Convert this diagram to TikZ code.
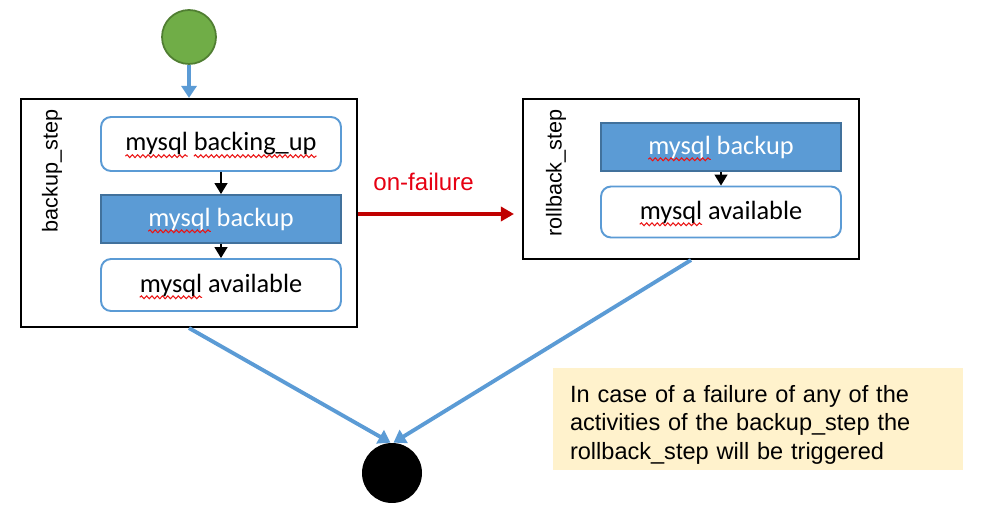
\documentclass[tikz,border=0pt]{standalone}
\usepackage{fontspec}
\setmainfont{Liberation Sans}
\newfontfamily\calibri{Carlito}
\usetikzlibrary{arrows.meta, positioning, decorations.pathmorphing}
\definecolor{actblue}{RGB}{91,155,213}
\definecolor{actedge}{RGB}{65,113,156}
\definecolor{startgreen}{RGB}{112,173,71}
\definecolor{startedge}{RGB}{80,126,50}
\definecolor{failred}{RGB}{192,0,0}
\definecolor{labelred}{RGB}{230,0,18}
\definecolor{notefill}{RGB}{255,242,204}
\definecolor{spellred}{RGB}{235,20,20}
\newcommand\actfont{\calibri\fontsize{15}{18}\selectfont}
\newlength\wmysql
\newlength\wgap
\newlength\wbacking
\tikzstyle{stepbox} = [rectangle, draw=black, line width=1.2pt, fill=white, minimum width=6.72cm, inner sep=0pt]
\tikzstyle{activity} = [rectangle, rounded corners=0.2cm, draw=actblue, line width=1.1pt, fill=white, minimum width=4.8cm, font=\actfont]
\tikzstyle{current} = [rectangle, draw=actedge, line width=1.1pt, fill=actblue, text=white, minimum width=4.8cm, font=\actfont]
\tikzstyle{steplabel} = [rotate=90, font=\fontsize{12.3}{14}\selectfont]
\tikzstyle{flow} = [actblue, line width=2.2pt, -{Triangle[width=0.3cm,length=0.24cm]}]
\tikzstyle{arrow} = [black, line width=0.8pt, -{Triangle[width=0.26cm,length=0.22cm]}]
\tikzstyle{spell} = [spellred, line width=0.6pt, decorate, decoration={snake, amplitude=0.8pt, segment length=3pt}]

\begin{document}
\settowidth\wmysql{\actfont mysql}
\settowidth\wgap{\actfont mysql }
\settowidth\wbacking{\actfont backing\_up}
\begin{tikzpicture}[x=0.02cm, y=-0.02cm]
    \useasboundingbox (0,0) rectangle (1000,520);

    % Start and end
    \node[circle, draw=startedge, line width=1pt, fill=startgreen, minimum size=1.08cm, inner sep=0pt] (start) at (189,37) {};
    \node[circle, fill=black, minimum size=1.2cm, inner sep=0pt] (finish) at (392,473) {};

    % backup step
    \node[stepbox, minimum height=4.56cm] (backupstep) at (189,213) {};
    \node[steplabel] (backuplabel) at (52,171) {backup\_step};
    \node[activity, minimum height=1.08cm] (backingup) at (221,144) {mysql backing\_up};
    \node[current, minimum height=0.96cm] (backup1) at (221,219) {mysql backup};
    \node[activity, minimum height=1.04cm] (available1) at (221,285) {mysql available};

    % rollback step
    \node[stepbox, minimum height=3.2cm] (rollbackstep) at (691,179) {};
    \node[steplabel] (rollbacklabel) at (556,173) {rollback\_step};
    \node[current, minimum height=0.96cm] (backup2) at (721,147) {mysql backup};
    \node[activity, minimum height=1.02cm] (available2) at (721,212) {mysql available};

    % spelling marks
    \draw[spell] ([yshift=-3pt]backingup.text) -- ++(\wmysql,0);
    \draw[spell] ([xshift=\wgap, yshift=-3pt]backingup.text) -- ++(\wbacking,0);
    \foreach \act in {backup1, available1, backup2, available2}
        \draw[spell] ([yshift=-3pt]\act.text) -- ++(\wmysql,0);

    % Note
    \node[rectangle, fill=notefill, minimum width=8.2cm, minimum height=2.04cm, text width=7.52cm, inner xsep=0.34cm, align=left, font=\fontsize{13.4}{16.2}\selectfont] (note) at (758,419) {\rule{0pt}{16.4pt}In case of a failure of any of the\\activities of the backup\_step the\\rollback\_step will be triggered};

    % Arrows
    \draw[flow] (start.south) -- (backupstep.north);
    \draw[arrow] (backingup) -- (backup1);
    \draw[arrow] (backup1) -- (available1);
    \draw[arrow] (backup2) -- (available2);
    \draw[failred, line width=2.2pt, -{Triangle[width=0.28cm,length=0.26cm]}, shorten >=0.16cm] ([yshift=-0.02cm]backupstep.east) -- ([yshift=-0.02cm]backupstep.east -| rollbackstep.west)
        node[pos=0.4, above=0.3cm, text=labelred, font=\fontsize{13.7}{16}\selectfont] (failurelabel) {on-failure};
    \draw[flow] (backupstep.south) -- ([xshift=-0.03cm]finish.north);
    \draw[flow] (rollbackstep.south) -- ([xshift=0.03cm]finish.north);

\end{tikzpicture}
\end{document}
